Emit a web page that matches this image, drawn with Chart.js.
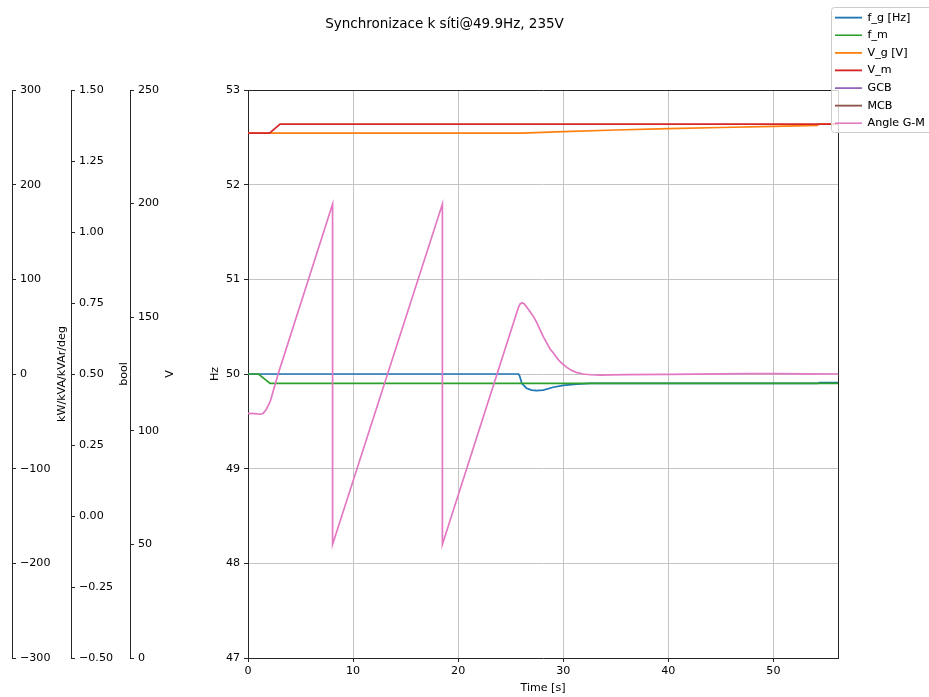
<!DOCTYPE html>
<html>
<head>
<meta charset="utf-8">
<title>Synchronizace k síti</title>
<script src="https://cdn.jsdelivr.net/npm/chart.js@4/dist/chart.umd.min.js"></script>
<style>
  html, body { margin: 0; padding: 0; background: #fff; }
  canvas { display: block; }
</style>
</head>
<body>
<canvas id="sync-chart" width="929" height="697"></canvas>
<script>
'use strict';

// frequency of generator [Hz]
var fgT = [0, 25.74, 25.85, 26.07, 26.5, 27.0, 27.45, 28.1, 29.05, 30.0, 31.3, 32.6, 54.2, 54.4, 56.15];
var fgV = [50.0, 50.0, 49.98, 49.90, 49.85, 49.83, 49.824, 49.83, 49.86, 49.88, 49.894, 49.9, 49.9, 49.908, 49.91];

// frequency of mains [Hz]
var fmT = [0, 1.0, 2.1, 56.15];
var fmV = [50.0, 50.0, 49.9, 49.9];

// generator voltage [V]
var vgT = [0, 26.0, 30, 35, 40, 45, 50, 54.2, 54.3, 56.15];
var vgV = [231.0, 231.0, 231.7, 232.4, 233.0, 233.5, 234.0, 234.4, 235.0, 235.0];

// mains voltage [V]
var vmT = [0, 2.05, 3.05, 56.15];
var vmV = [231.0, 231.0, 235.0, 235.0];

// breakers (no samples logged)
var gcbT = [];
var gcbV = [];
var mcbT = [];
var mcbV = [];

// phase angle generator - mains [deg]
var angT = [0, 0.6, 1.2, 1.45, 1.7, 1.95, 2.16, 2.4, 2.57, 2.89, 8.05, 8.05, 18.5, 18.5,
  25.74, 25.9, 26.07, 26.3, 26.5, 26.8, 27.17, 27.5, 27.8, 28.1, 28.45, 28.75, 29.08, 29.4,
  29.7, 30.0, 30.35, 30.8, 31.3, 31.9, 32.6, 33.5, 34.5, 36, 40, 45, 48, 50, 53, 56.15];
var angV = [-41.5, -41.8, -42.5, -41.5, -38, -33, -27.5, -18, -11.6, 0.7, 179.5, -180, 179.5, -180,
  70.5, 74, 75.3, 74, 71, 66.5, 60.6, 54, 46.5, 39.5, 32.4, 26.5, 21.9, 17,
  13, 10, 7, 3.8, 1.4, 0, -0.8, -1.1, -1, -0.7, -0.3, 0.2, 0.5, 0.4, 0.1, 0];

var timeTicks = [0, 10, 20, 30, 40, 50];

var GRID = '#c4c4c4';
var SPINE = '#262626';
var FONT = 'DejaVu Sans';

Chart.defaults.font.family = FONT;
Chart.defaults.font.size = 11.1;
Chart.defaults.color = '#000';

function pts(ts, vs) {
  return ts.map(function (t, i) { return { x: t, y: vs[i] }; });
}

function series(label, ts, vs, color, axis, order) {
  return {
    label: label,
    data: pts(ts, vs),
    borderColor: color,
    backgroundColor: color,
    borderWidth: 1.7,
    pointRadius: 0,
    tension: 0,
    fill: false,
    yAxisID: axis,
    order: order
  };
}

function minus(v) {
  return String(v).replace('-', '\u2212');
}

// extra left axis: spine with ticks and labels on its right side
function sideAxis(min, max, step, weight, width, title, titlePad, fmt) {
  return {
    type: 'linear',
    position: 'left',
    weight: weight,
    min: min,
    max: max,
    afterFit: function (s) { s.width = width; },
    border: { display: true, color: SPINE, width: 1 },
    grid: { drawOnChartArea: false, drawTicks: true, tickLength: -4, tickColor: SPINE, tickWidth: 1 },
    ticks: { stepSize: step, mirror: true, padding: 8, callback: fmt },
    title: { display: true, text: title, padding: { top: titlePad, bottom: 0 } }
  };
}

var legendSpot = {
  id: 'legendSpot',
  afterLayout: function (chart) {
    var lg = chart.legend;
    lg.left = 828.5;
    lg.top = 5.6;
    lg.right = 940;
    lg.bottom = 143;
    lg.adjustHitBoxes();
  },
  afterDraw: function (chart) {
    var ctx = chart.ctx;
    ctx.save();
    ctx.beginPath();
    ctx.roundRect(831.5, 7.5, 120, 125, 3);
    ctx.fillStyle = 'rgba(255,255,255,0.8)';
    ctx.fill();
    ctx.strokeStyle = '#cccccc';
    ctx.lineWidth = 1;
    ctx.stroke();
    ctx.restore();
    chart.legend.draw();
  }
};

new Chart(document.getElementById('sync-chart'), {
  type: 'line',
  data: {
    datasets: [
      series('f_g [Hz]', fgT, fgV, '#1f77b4', 'yHz', 7),
      series('f_m', fmT, fmV, '#2ca02c', 'yHz', 6),
      series('V_g [V]', vgT, vgV, '#ff7f0e', 'yV', 5),
      series('V_m', vmT, vmV, '#d62728', 'yV', 4),
      series('GCB', gcbT, gcbV, '#9467bd', 'yBool', 3),
      series('MCB', mcbT, mcbV, '#8c564b', 'yBool', 2),
      series('Angle G-M', angT, angV, '#e377c2', 'yKw', 1)
    ]
  },
  options: {
    responsive: false,
    animation: false,
    events: [],
    layout: { padding: { left: 0, top: 0, right: 40, bottom: 0 } },
    plugins: {
      title: {
        display: true,
        text: 'Synchronizace k síti@49.9Hz, 235V',
        color: '#000',
        font: { size: 13.5, weight: 'normal' },
        padding: { top: 16, bottom: 57.8 }
      },
      legend: {
        position: 'chartArea',
        align: 'start',
        labels: {
          usePointStyle: true,
          pointStyle: 'line',
          pointStyleWidth: 27,
          padding: 6.5,
          color: '#000',
          font: { size: 11.1 },
          sort: function (a, b) { return a.datasetIndex - b.datasetIndex; }
        }
      },
      tooltip: { enabled: false }
    },
    scales: {
      x: {
        type: 'linear',
        position: 'bottom',
        min: 0,
        max: 56.15,
        afterFit: function (s) { s.height = 39; },
        afterBuildTicks: function (s) {
          s.ticks = timeTicks.map(function (v) { return { value: v }; });
        },
        border: { display: true, color: SPINE, width: 1 },
        grid: {
          color: function (c) { return c.tick && c.tick.value === 0 ? 'rgba(0,0,0,0)' : GRID; },
          lineWidth: 1,
          tickLength: 4,
          tickColor: SPINE
        },
        ticks: { padding: 2.5, maxRotation: 0 },
        title: { display: true, text: 'Time [s]', padding: { top: 0, bottom: 2 } }
      },
      xTop: {
        type: 'linear',
        position: 'top',
        min: 0,
        max: 1,
        afterFit: function (s) { s.height = 0; },
        border: { display: true, color: SPINE, width: 1 },
        grid: { display: false },
        ticks: { display: false }
      },
      yHz: {
        type: 'linear',
        position: 'left',
        weight: 1,
        min: 47,
        max: 53,
        afterFit: function (s) { s.width = 118; },
        border: { display: true, color: SPINE, width: 1 },
        grid: {
          color: function (c) {
            return c.tick && (c.tick.value === 47 || c.tick.value === 53) ? 'rgba(0,0,0,0)' : GRID;
          },
          lineWidth: 1,
          tickLength: 4,
          tickColor: SPINE
        },
        ticks: { stepSize: 1, padding: 4 },
        title: { display: true, text: 'Hz', padding: { top: 78.3, bottom: 0 } }
      },
      yV: sideAxis(0, 250, 50, 2, 59, 'V', 92.3, function (v) { return minus(v); }),
      yBool: sideAxis(-0.5, 1.5, 0.25, 3, 59, 'bool', 105.3, function (v) { return minus(v.toFixed(2)); }),
      yKw: sideAxis(-300, 300, 100, 4, 12, 'kW/kVA/kVAr/deg', 55.3, function (v) { return minus(v); }),
      yRight: {
        type: 'linear',
        position: 'right',
        min: 0,
        max: 1,
        afterFit: function (s) { s.width = 51; },
        border: { display: true, color: SPINE, width: 1 },
        grid: { display: false },
        ticks: { display: false }
      }
    }
  },
  plugins: [legendSpot]
});
</script>
</body>
</html>
